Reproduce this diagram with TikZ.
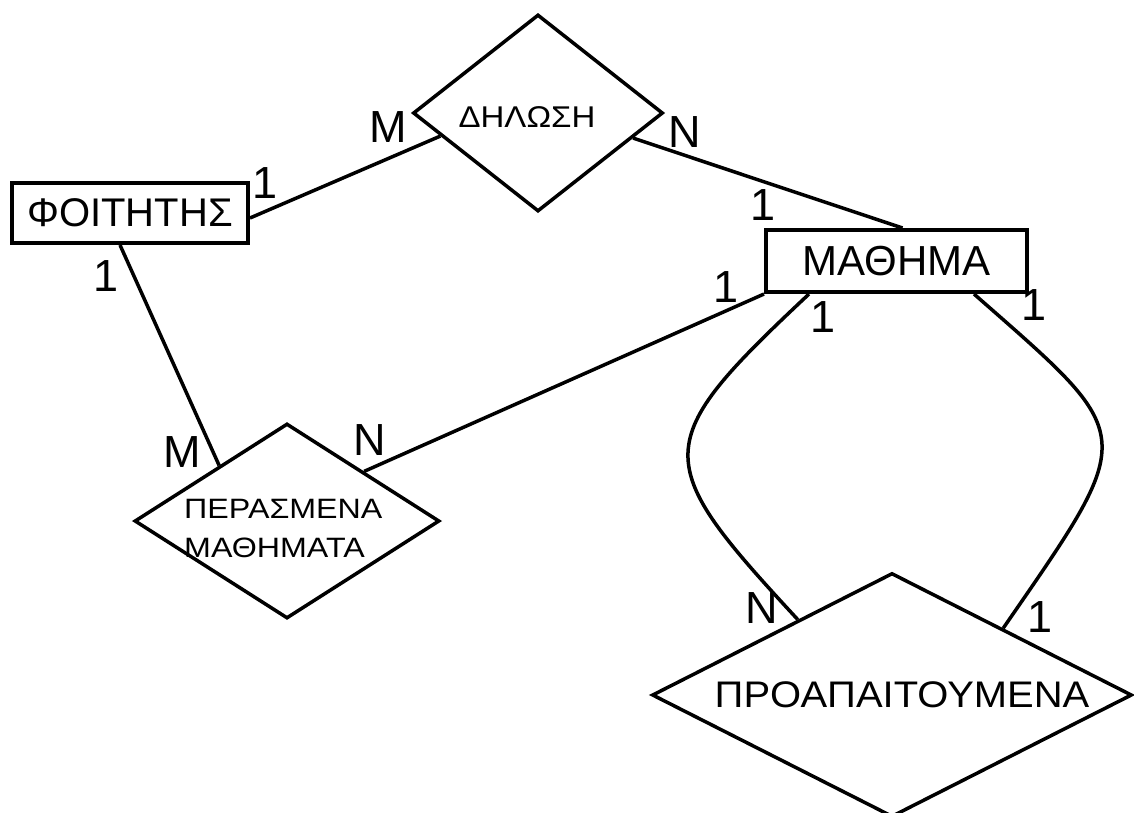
\documentclass[tikz,border=0pt]{standalone}
\usepackage{fontspec}
\setmainfont{Liberation Sans}
\newfontfamily\stretchA[FakeStretch=1.1]{Liberation Sans}
\newfontfamily\stretchB[FakeStretch=1.15]{Liberation Sans}
\newfontfamily\stretchC[FakeStretch=1.08]{Liberation Sans}
\usetikzlibrary{shapes.geometric,calc}
\tikzset{
  entity/.style={draw, line width=4pt, rectangle, inner sep=0pt},
  relship/.style={draw, line width=3.5pt, diamond, inner sep=0pt, aspect=1},
  conn/.style={line width=3.5pt},
  card/.style={inner sep=0pt, font=\fontsize{45}{45}\selectfont},
}
\begin{document}
\begin{tikzpicture}[x=1pt,y=-1pt]
\useasboundingbox (0,0) rectangle (1134,812);
% entities
\node[entity, minimum width=236pt, minimum height=60pt, font=\fontsize{40}{40}\selectfont] (st) at (130,213) {ΦΟΙΤΗΤΗΣ};
\node[entity, minimum width=261pt, minimum height=62pt, font=\fontsize{42}{42}\selectfont] (co) at (896.5,261) {ΜΑΘΗΜΑ};
% relationships
\node[relship, minimum width=250pt, minimum height=197pt] (dl) at (538,113) {};
\node[font=\stretchA\fontsize{30}{30}\selectfont, inner sep=0pt] (dlt) at (527,117) {ΔΗΛΩΣΗ};
\node[relship, minimum width=305pt, minimum height=195pt] (pm) at (287,521) {};
\node[font=\stretchB\fontsize{28}{39}\selectfont, inner sep=0pt, align=left, anchor=west] (pmt) at (184,528) {ΠΕΡΑΣΜΕΝΑ\\ΜΑΘΗΜΑΤΑ};
\node[relship, minimum width=480pt, minimum height=244pt] (pr) at (892,695) {};
\node[font=\stretchC\fontsize{37}{37}\selectfont, inner sep=0pt] (prt) at (902,695) {ΠΡΟΑΠΑΙΤΟΥΜΕΝΑ};
% connectors
\draw[conn] (st.east) ++(0,5) coordinate (stE) -- ($(dl.west)!0.23!(dl.south)$);
\draw[conn] ($(dl.east)!0.25!(dl.south)$) -- ($(co.north)+(6,0)$);
\draw[conn] ($(st.south)+(-10,0)$) -- ($(pm.west)!0.56!(pm.north)$);
\draw[conn] (co.south west) -- ($(pm.north)!0.5!(pm.east)$);
\draw[conn] ($(co.south west)+(45,0)$) coordinate (cL) .. controls ($(cL)+(-160,150)$) and (650,460) .. ($(pr.west)!0.61!(pr.north)$);
\draw[conn] ($(co.south west)+(210,0)$) coordinate (cR) .. controls ($(cR)+(165,145)$) and (1140,430) .. ($(pr.east)!0.54!(pr.north)$);
% cardinalities
\node[card] (c1) at (265,183) {1};
\node[card] (c2) at (388,127) {M};
\node[card] (c3) at (685,132) {N};
\node[card] (c4) at (763,205) {1};
\node[card] (c5) at (106,276) {1};
\node[card] (c6) at (182,452) {M};
\node[card] (c7) at (370,440) {N};
\node[card] (c8) at (726,287) {1};
\node[card] (c9) at (823,317) {1};
\node[card] (c10) at (1034,305) {1};
\node[card] (c11) at (762,608) {N};
\node[card] (c12) at (1040,617) {1};
\end{tikzpicture}
\end{document}
